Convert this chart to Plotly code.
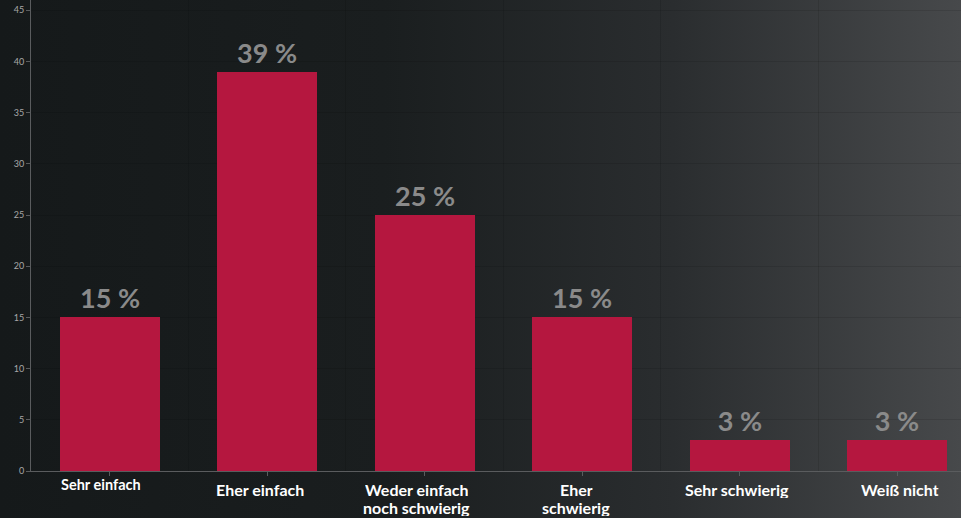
import base64
import plotly.graph_objects as go

# Survey answers and their shares in percent
categories = ["Sehr einfach", "Eher einfach", "Weder einfach<br>noch schwierig",
              "Eher<br>schwierig", "Sehr schwierig", "Weiß nicht"]
shares = [15, 39, 25, 15, 3, 3]
y_ticks = [0, 5, 10, 15, 20, 25, 30, 35, 40, 45]

BAR_COLOR = "#b5173f"
LABEL_GREY = "#8a8a8a"
FONT = "Lato, 'Open Sans', sans-serif"

# dark horizontal gradient used as the page backdrop
svg = (
    '<svg xmlns="http://www.w3.org/2000/svg" width="961" height="518">'
    '<defs><linearGradient id="g" x1="0" y1="0" x2="1" y2="0">'
    '<stop offset="0" stop-color="#15191a"/>'
    '<stop offset="0.4" stop-color="#1a1e1f"/>'
    '<stop offset="0.7" stop-color="#2a2d2f"/>'
    '<stop offset="1" stop-color="#47494b"/>'
    '</linearGradient></defs>'
    '<rect width="961" height="518" fill="url(#g)"/></svg>'
)
bg_uri = "data:image/svg+xml;base64," + base64.b64encode(svg.encode()).decode()

x_pos = list(range(len(categories)))

fig = go.Figure()
fig.add_trace(go.Bar(
    x=x_pos,
    y=shares,
    width=0.635,
    marker=dict(color=BAR_COLOR, line=dict(width=0)),
    text=[f"{v} %" for v in shares],
    textposition="outside",
    cliponaxis=False,
    textfont=dict(family=FONT, size=27, color=LABEL_GREY, weight="bold"),
    hoverinfo="skip",
))

# category labels below the axis, one fixed-height annotation per text line
label_xshift = [-9, -7, -8, -6, -3, 3]
for i, cat in enumerate(categories):
    lines = cat.split("<br>")
    size = 14.5 if i == 0 else 16
    first_shift = -4 if i == 0 else -9
    for j, line in enumerate(lines):
        fig.add_annotation(
            x=i, y=0, xref="x", yref="paper",
            text=f"<b>{line}</b>", showarrow=False,
            xshift=label_xshift[i],
            yanchor="top", yshift=first_shift - 18 * j,
            height=17, valign="middle", borderpad=0,
            font=dict(family=FONT, size=size, color="#ffffff"),
            align="center",
        )

fig.update_layout(
    width=961, height=518,
    margin=dict(l=31, r=0, t=0, b=47),
    paper_bgcolor="rgba(0,0,0,0)",
    plot_bgcolor="rgba(0,0,0,0)",
    showlegend=False,
    bargap=0,
    images=[dict(source=bg_uri, xref="paper", yref="paper",
                 x=-31 / 930, y=1, sizex=961 / 930, sizey=518 / 471,
                 xanchor="left", yanchor="top", sizing="stretch",
                 layer="below")],
    xaxis=dict(
        range=[-0.5, 5.405],
        tickvals=x_pos, ticktext=[""] * len(x_pos),
        ticks="outside", ticklen=4, tickcolor="#5a5c5e",
        showline=True, linecolor="#5a5c5e", linewidth=1,
        showgrid=False, zeroline=False, fixedrange=True,
        minor=dict(tickvals=[i + 0.5 for i in range(-1, 6)],
                   showgrid=True, gridcolor="rgba(0,0,0,0.1)", gridwidth=1),
    ),
    yaxis=dict(
        range=[0, 46],
        tickvals=y_ticks,
        ticks="outside", ticklen=4, tickcolor="#5a5c5e",
        tickfont=dict(family=FONT, size=9, color="#a8a8a8"),
        showline=True, linecolor="#5a5c5e", linewidth=1,
        showgrid=True, gridcolor="rgba(0,0,0,0.1)", gridwidth=1,
        zeroline=False, fixedrange=True,
    ),
)

fig.write_html("out.html", config={"displayModeBar": False})
